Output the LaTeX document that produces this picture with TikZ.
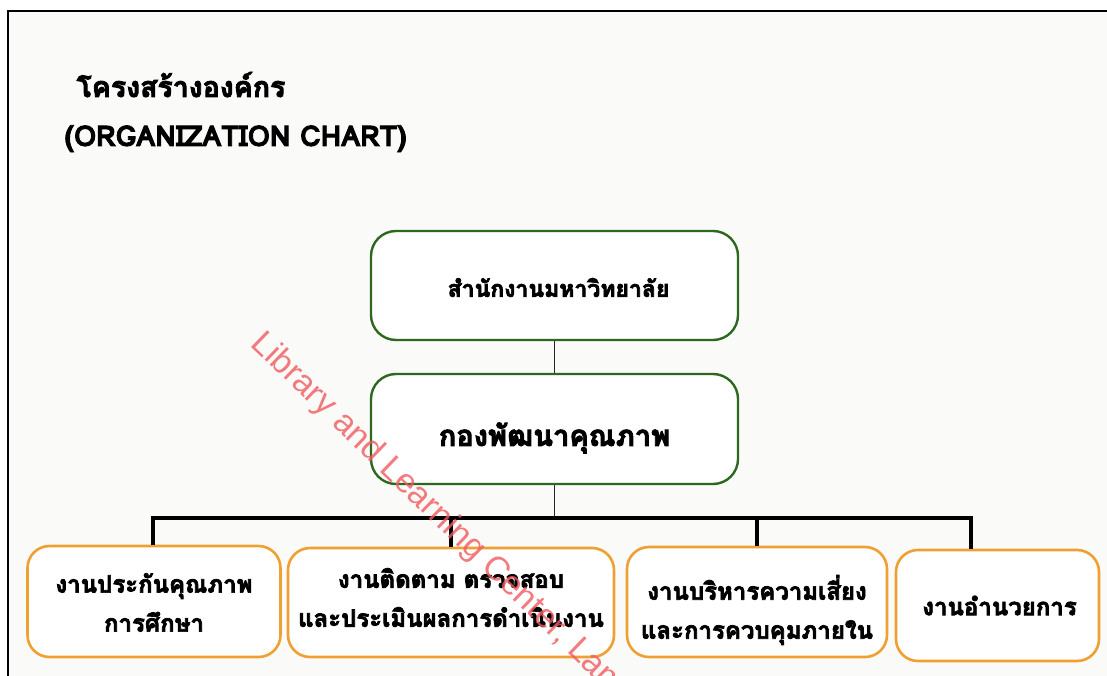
\documentclass[tikz,border=0pt]{standalone}
\usepackage{fontspec}
\setmainfont{Loma}[Script=Thai, BoldFeatures={FakeBold=3}]
\newfontfamily\wmfont{Liberation Sans}
\definecolor{boxgreen}{RGB}{46,104,30}
\definecolor{boxorange}{RGB}{240,160,50}
\definecolor{panel}{RGB}{250,250,248}
\definecolor{wmred}{RGB}{240,90,95}
\tikzset{
  headbox/.style={draw=boxgreen, line width=2.4pt, rounded corners=25pt, fill=white,
    minimum width=367pt, minimum height=109pt, inner sep=0pt},
  unitbox/.style={draw=boxorange, line width=2.6pt, rounded corners=22pt, fill=white,
    minimum height=110pt, inner sep=0pt},
  boxtext/.style={align=center, inner sep=0pt},
  thin link/.style={draw=black!85, line width=1.5pt},
  bus link/.style={draw=black, line width=3.2pt},
  unittext/.style={boxtext, font=\fontsize{24}{39}\selectfont\bfseries},
}
\begin{document}
\begin{tikzpicture}[x=1pt,y=-1pt]
\useasboundingbox (0,0) rectangle (1107,676);
\fill[white] (0,0) rectangle (1107,676);
\fill[panel] (8,11) rectangle (1107,676);
\draw[black, line width=2pt] (8,676) -- (8,11) -- (1107,11);

\node[anchor=base west, font=\fontsize{28.5}{30}\selectfont\bfseries] (t1) at (73,97) {โครงสร้างองค์กร};
\node[anchor=base west, font=\fontsize{28.5}{30}\selectfont\bfseries] (t2) at (61,146) {(ORGANIZATION CHART)};

\node[headbox] (top) at (554.5,285.5) {};
\node[headbox, minimum height=110pt] (mid) at (554.5,429) {};
\node[boxtext, font=\fontsize{23}{28}\selectfont\bfseries] (topt) at ([xshift=4pt,yshift=-2pt]top.center) {สำนักงานมหาวิทยาลัย};
\node[boxtext, font=\fontsize{29}{34}\selectfont\bfseries] (midt) at ([yshift=-9pt]mid.center) {กองพัฒนาคุณภาพ};

\node[unitbox, minimum width=253pt, minimum height=111pt] (b1) at (154,601.5) {};
\node[unitbox, minimum width=326pt, minimum height=109pt] (b2) at (451,602.5) {};
\node[unitbox, minimum width=260pt] (b3) at (757,602) {};
\node[unitbox, minimum width=203pt, minimum height=111pt] (b4) at (997.5,605.5) {};
\node[unittext] (b1t) at ([yshift=-1pt]b1.center) {งานประกันคุณภาพ\\การศึกษา};
\node[unittext] (b2t) at ([yshift=5pt]b2.center) {งานติดตาม ตรวจสอบ\\และประเมินผลการดำเนินงาน};
\node[unittext] (b3t) at ([yshift=-8pt]b3.center) {งานบริหารความเสี่ยง\\และการควบคุมภายใน};
\node[unittext] (b4t) at ([xshift=2pt]b4.center) {งานอำนวยการ};

\coordinate (busL) at (153,518);
\coordinate (busR) at (971,518);
\draw[thin link] (top) -- (mid);
\draw[thin link] (mid.south) -- (mid.south |- busL);
\draw[bus link] (b1.north -| busL) -- (busL) -- (busR) -- (busR |- b4.north);
\draw[bus link] (b2.north) -- (b2.north |- busL);
\draw[bus link] (b3.north) -- (b3.north |- busL);

\begin{scope}
\clip (0,0) rectangle (1107,676);
\node[anchor=base west, rotate=-44, text=wmred, opacity=0.8, font=\wmfont\fontsize{34}{40}\selectfont] (wm) at (247,343) {Library and Learning Center, Lampang};
\end{scope}
\end{tikzpicture}
\end{document}
